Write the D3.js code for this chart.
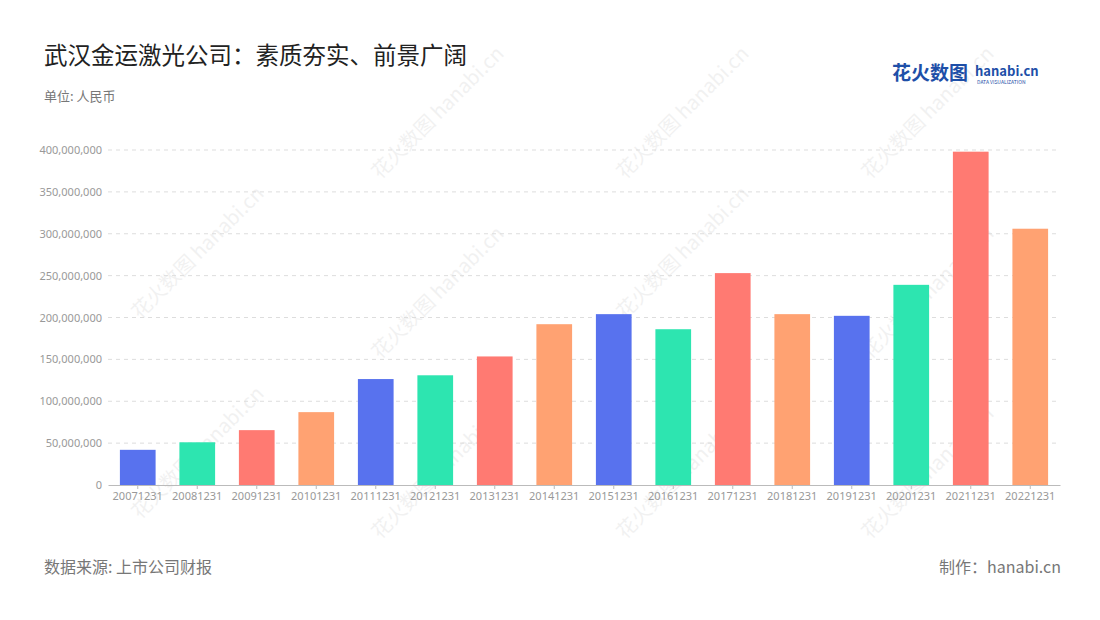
<!DOCTYPE html>
<html><head><meta charset="utf-8">
<script src="https://cdn.jsdelivr.net/npm/d3@7/dist/d3.min.js"></script>
<style>body{margin:0;background:#fff;font-family:"Noto Sans CJK SC","Noto Sans",sans-serif}</style>
</head><body><svg id="c" width="1100" height="620"></svg>
<script>
const categories=["20071231","20081231","20091231","20101231","20111231","20121231","20131231","20141231","20151231","20161231","20171231","20181231","20191231","20201231","20211231","20221231"];
const values=[42e6,51e6,65.5e6,87e6,126.5e6,131e6,153.5e6,192e6,204e6,186e6,253e6,204e6,202e6,239e6,398e6,306e6];
const yTicks=[0,50e6,100e6,150e6,200e6,250e6,300e6,350e6,400e6];
const palette=["#5872ee","#2de5b0","#ff7a72","#ffa272"];

const svg=d3.select("#c");
const x=d3.scaleBand().domain(categories).range([108,1060]).paddingInner(0.4).paddingOuter(0.2);
const y=d3.scaleLinear().domain([0,400e6]).range([485,150]);

svg.append("text").attr("x",44).attr("y",64).attr("font-size",23.5).attr("fill","#222").text("武汉金运激光公司：素质夯实、前景广阔");
svg.append("text").attr("x",44).attr("y",101).attr("font-size",13).attr("fill","#777").text("单位: 人民币");
const lg=svg.append("g");
lg.append("text").attr("x",892).attr("y",80).attr("font-size",19).attr("font-weight","bold").attr("fill","#1e4fa8").text("花火数图");
lg.append("text").attr("x",975).attr("y",76).attr("font-size",13).attr("font-weight","bold").attr("fill","#1e4fa8").text("hanabi.cn");
lg.append("text").attr("x",977).attr("y",84).attr("font-size",5).attr("fill","#1e4fa8").text("DATA VISUALIZATION");

[[380,180],[625,180],[870,180],[140,320],[380,360],[625,320],[870,360],[140,520],[380,540],[625,540],[870,540]].forEach(([a,b])=>{
 svg.append("text").attr("transform",`translate(${a},${b}) rotate(-45)`).attr("font-size",20).attr("fill","#000").attr("opacity",0.05).text("花火数图 hanabi.cn");
});

const ya=svg.append("g").attr("transform","translate(108,0)").call(d3.axisLeft(y).tickValues(yTicks).tickFormat(d3.format(",")).tickSize(0).tickPadding(6));
ya.select(".domain").remove();
ya.selectAll("text").attr("fill","#999").attr("font-size",11).attr("font-family","Noto Sans");
svg.append("g").selectAll("line").data(yTicks.slice(1)).join("line")
 .attr("x1",108).attr("x2",1060).attr("y1",d=>y(d)).attr("y2",d=>y(d)).attr("stroke","#ddd").attr("stroke-dasharray","4,4");

svg.append("g").selectAll("rect").data(values).join("rect")
 .attr("x",(d,i)=>x(categories[i])).attr("width",x.bandwidth())
 .attr("y",d=>y(d)).attr("height",d=>485-y(d)).attr("fill",(d,i)=>palette[i%4]);

const xa=svg.append("g").attr("transform","translate(0,485)").call(d3.axisBottom(x).tickSize(4).tickSizeOuter(0));
xa.select(".domain").attr("stroke","#bbb");
xa.selectAll("line").attr("stroke","#bbb");
xa.selectAll("text").attr("fill","#999").attr("font-size",11).attr("font-family","Noto Sans");

svg.append("text").attr("x",44).attr("y",573).attr("font-size",16).attr("fill","#777").text("数据来源: 上市公司财报");
svg.append("text").attr("x",1061).attr("y",573).attr("text-anchor","end").attr("font-size",16).attr("fill","#777").text("制作：hanabi.cn");
</script></body></html>
